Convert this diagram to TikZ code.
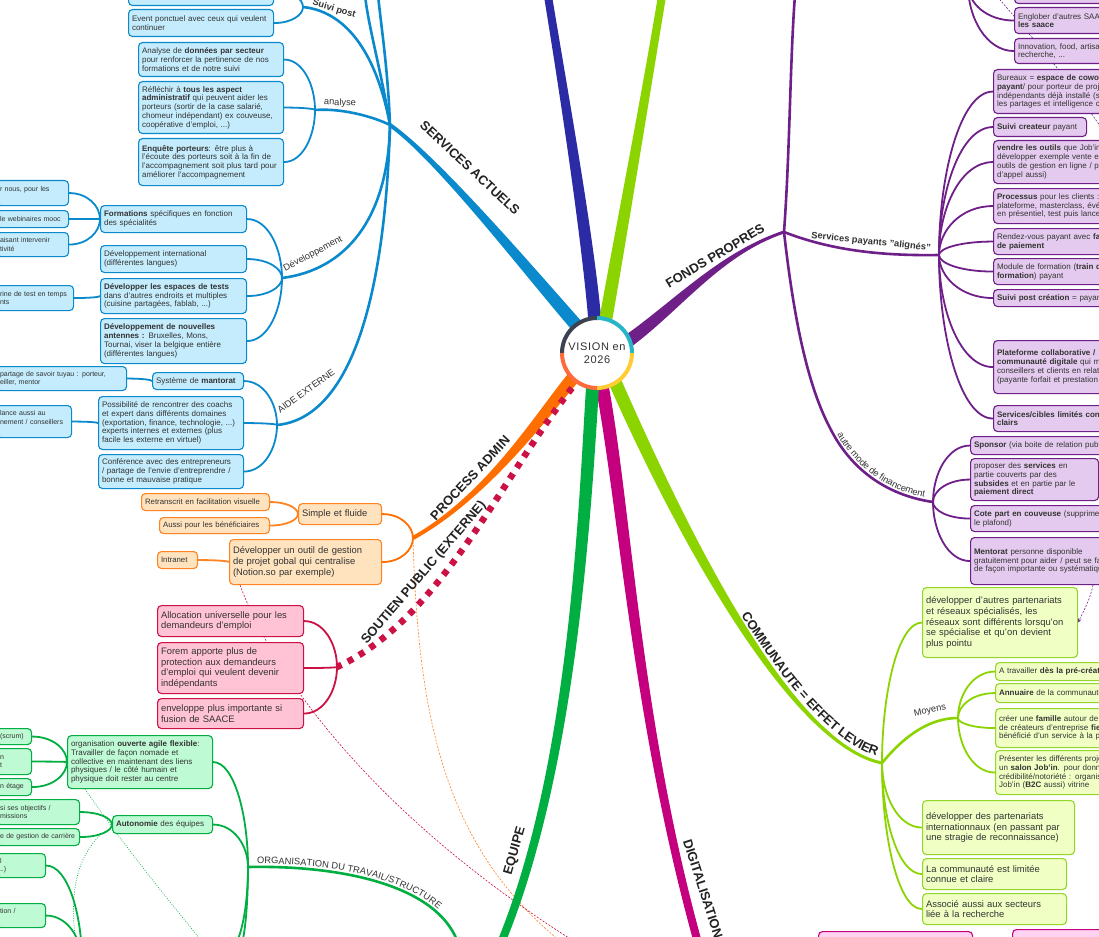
\documentclass[tikz,border=0pt]{standalone}
\usepackage{fontspec}
\setmainfont{Liberation Sans}
\usetikzlibrary{calc,decorations.text,arrows.meta}
\pgfdeclarelayer{bg}
\pgfsetlayers{bg,main}
\definecolor{cBlue}{HTML}{0A8ACC}
\definecolor{cBlueF}{HTML}{C4ECFC}
\definecolor{cNavy}{HTML}{2B2BA6}
\definecolor{cLime}{HTML}{8CD400}
\definecolor{cLimeB}{HTML}{96D62A}
\definecolor{cLimeF}{HTML}{F0FFC4}
\definecolor{cPurp}{HTML}{6E1F88}
\definecolor{cPurpF}{HTML}{E4CAEE}
\definecolor{cOrange}{HTML}{FF6E00}
\definecolor{cOrangeB}{HTML}{FF8320}
\definecolor{cOrangeF}{HTML}{FFE3BE}
\definecolor{cRed}{HTML}{CC1144}
\definecolor{cRedF}{HTML}{FFC3D5}
\definecolor{cGreen}{HTML}{00AE42}
\definecolor{cGreenF}{HTML}{BEFBD4}
\definecolor{cMag}{HTML}{C4007E}
\definecolor{cMagF}{HTML}{FFD2F2}
\definecolor{cText}{HTML}{333333}
\definecolor{cDark}{HTML}{222222}
\definecolor{cRingA}{HTML}{3B4252}
\definecolor{cRingB}{HTML}{26B6C8}
\definecolor{cRingC}{HTML}{FFCC33}
\definecolor{cRingD}{HTML}{FF6B3D}
\newcommand\smallf{\fontsize{8}{8.8}\selectfont}
\newcommand\cropf{\fontsize{7}{8.6}\selectfont}
\newcommand\bigf{\fontsize{9.4}{10.8}\selectfont}
\newcommand\tinyf{\fontsize{7.8}{8.6}\selectfont}
\newcommand\mainlab{\fontsize{13}{14}\selectfont\bfseries}
\newcommand\sublab{\fontsize{9.3}{10}\selectfont}
\newcommand\centf{\fontsize{11}{13.5}\selectfont\addfontfeature{LetterSpace=6}}
\newcommand\mmbox[7]{%
  \pgfmathsetmacro\mmw{#5-(#3)-7}%
  \pgfmathsetmacro\mmh{#6-(#4)}%
  \node[#1, text width=\mmw pt, minimum height=\mmh pt, anchor=north west] (#2) at (#3,#4) {#7};}
\newcommand\mmlink[3][]{\draw[lnk,#1] (#2) .. controls ($(#2)!0.6!(#2 -| #3)$) and ($(#3)!0.5!(#3 |- #2)$) .. (#3);}
\newcommand\mmbranch[7]{%
  \coordinate (mbL0) at ($(#2)!#6!90:(#3)$);
  \coordinate (mbR0) at ($(#2)!#6!-90:(#3)$);
  \coordinate (mbL3) at ($(#5)!#7!-90:(#4)$);
  \coordinate (mbR3) at ($(#5)!#7!90:(#4)$);
  \coordinate (mbL1) at ($(#3)+(mbL0)-(#2)$);
  \coordinate (mbR1) at ($(#3)+(mbR0)-(#2)$);
  \coordinate (mbL2) at ($(#4)+(mbL3)-(#5)$);
  \coordinate (mbR2) at ($(#4)+(mbR3)-(#5)$);
  \fill[#1] (mbL0) .. controls (mbL1) and (mbL2) .. (mbL3) -- (mbR3) .. controls (mbR2) and (mbR1) .. (mbR0) -- cycle;}
\newcommand\cl[1]{\leavevmode\rlap{#1}}
\tikzset{
  nbox/.style={rounded corners=4pt, line width=1.1pt, inner xsep=3.5pt, inner ysep=1pt, align=left, text=cText, font=\smallf},
  bnode/.style={nbox, draw=cBlue, fill=cBlueF},
  bcrop/.style={bnode, font=\cropf},
  onode/.style={nbox, draw=cOrangeB, fill=cOrangeF},
  obig/.style={onode, font=\bigf},
  otiny/.style={onode, font=\tinyf},
  rnode/.style={nbox, draw=cRed, fill=cRedF, font=\bigf},
  gnode/.style={nbox, draw=cGreen, fill=cGreenF},
  gcrop/.style={gnode, font=\cropf},
  pnode/.style={nbox, draw=cPurp, fill=cPurpF},
  cnode/.style={nbox, draw=cLimeB, fill=cLimeF},
  cbig/.style={cnode, font=\bigf},
  mnode/.style={nbox, draw=cMag, fill=cMagF},
  lnk/.style={line width=1.8pt},
  subbr/.style={line width=2.6pt},
  relln/.style={line width=0.6pt, dash pattern=on 2pt off 1.5pt},
  dotln/.style={line width=0.7pt, dash pattern=on 0.8pt off 1.6pt},
  mlab/.style={font=\mainlab, text=cDark, inner sep=0pt},
  slab/.style={font=\sublab, text=cText, inner sep=0pt},
}
\begin{document}
\begin{tikzpicture}[x=1pt,y=-1pt]
\useasboundingbox (0,0) rectangle (1099,936);
\begin{pgfonlayer}{bg}
\fill[white] (0,0) rectangle (1099,936);
\end{pgfonlayer}
\clip (0,0) rectangle (1099,936);

% junction coordinates
\coordinate (J) at (390,125);
\coordinate (A0) at (303,7);
\coordinate (A1) at (315,110);
\coordinate (A2) at (282,278);
\coordinate (A3) at (277,425);
\coordinate (jt1) at (365,-5);
\coordinate (jt2) at (378,-5);
\coordinate (O) at (413,538);
\coordinate (R) at (337,667);
\coordinate (G) at (248,867);
\coordinate (gE) at (460,950);
\coordinate (G2) at (82,962);
\coordinate (gD1) at (228,950);
\coordinate (gD2) at (238,950);
\coordinate (C0) at (612,375);
\coordinate (C) at (882,763);
\coordinate (M) at (958,718);
\coordinate (K) at (784,232);
\coordinate (KA) at (830,428);
\coordinate (kt) at (795,-5);
\coordinate (S) at (939,255);
\coordinate (F) at (933,502);
\coordinate (U) at (968,-15);
\coordinate (mA) at (1093,585);
\coordinate (rp0) at (240,585);
\coordinate (rp1) at (580,945);
\coordinate (op1) at (565,945);
\coordinate (pr0) at (995,-6);
\coordinate (pr1) at (1106,135);
\coordinate (gd0) at (85,789);
\coordinate (gd1) at (205,945);
\coordinate (gd2) at (101,834);
\coordinate (gd3) at (76,945);

% ---------- SERVICES ACTUELS (blue) ----------
\mmbox{bnode}{bTop}{128}{-25}{273}{5}{}
\mmbox{bnode}{bEvent}{128}{9}{273}{36}{Event ponctuel avec ceux qui veulent\\ continuer}
\mmbox{bnode}{bAn1}{138}{42}{283}{76}{Analyse de \textbf{données par secteur}\\ pour renforcer la pertinence de nos\\ formations et de notre suivi}
\mmbox{bnode}{bAn2}{138}{81}{283}{133}{Réfléchir à \textbf{tous les aspect}\\ \textbf{administratif} qui peuvent aider les\\ porteurs (sortir de la case salarié,\\ chomeur indépendant) ex couveuse,\\ coopérative d'emploi, ...)}
\mmbox{bnode}{bAn3}{138}{138}{283}{185}{\textbf{Enquête porteurs}: être plus à\\ l'écoute des porteurs soit à la fin de\\ l'accompagnement soit plus tard pour\\ améliorer l'accompagnement}
\mmbox{bnode}{bForm}{100}{205}{246}{232}{\textbf{Formations} spécifiques en fonction\\ des spécialités}
\mmbox{bnode}{bIntl}{100}{245}{246}{272}{Développement international\\ (différentes langues)}
\mmbox{bnode}{bEsp}{100}{278}{246}{313}{\textbf{Développer les espaces de tests}\\ dans d'autres endroits et multiples\\ (cuisine partagées, fablab, ...)}
\mmbox{bnode}{bAnt}{100}{318}{246}{363}{\textbf{Développement de nouvelles}\\ \textbf{antennes :} Bruxelles, Mons,\\ Tournai, viser la belgique entière\\ (différentes langues)}
\mmbox{bcrop}{bF1}{-4}{180}{68}{205}{\cl{r nous, pour les}\\ \mbox{}}
\mmbox{bcrop}{bF2}{-4}{210}{68}{227}{\cl{le webinaires mooc}}
\mmbox{bcrop}{bF3}{-4}{232}{68}{256}{\cl{aisant intervenir}\\ \cl{tivité}}
\mmbox{bcrop}{bE1}{-4}{285}{73}{310}{\cl{rine de test en temps}\\ \cl{nts}}
\mmbox{bnode}{bMan}{152}{372}{243}{389}{Système de \textbf{mantorat}}
\mmbox{bnode}{bPoss}{98}{396}{243}{449}{Possibilité de rencontrer des coachs\\ et expert dans différents domaines\\ (exportation, finance, technologie, ...)\\ experts internes et externes (plus\\ facile les externe en virtuel)}
\mmbox{bnode}{bConf}{98}{454}{243}{488}{Conférence avec des entrepreneurs\\ / partage de l'envie d'entreprendre /\\ bonne et mauvaise pratique}
\mmbox{bcrop}{bM1}{-4}{366}{126}{390}{\cl{partage de savoir tuyau : porteur,}\\ \cl{eiller, mentor}}
\mmbox{bcrop}{bP1}{-4}{405}{71}{437}{\cl{lance aussi au}\\ \cl{nement / conseillers}\\ \mbox{}}

% ---------- PROCESS ADMIN (orange) ----------
\mmbox{obig}{oSimple}{298}{503}{381}{524}{Simple et fluide}
\mmbox{obig}{oOutil}{229}{539}{381}{584}{Développer un outil de gestion\\ de projet gobal qui centralise\\ (Notion.so par exemple)}
\mmbox{otiny}{oRetr}{141}{493}{269}{510}{Retranscrit en facilitation visuelle}
\mmbox{otiny}{oAussi}{159}{517}{269}{533}{Aussi pour les bénéficiaires}
\mmbox{otiny}{oIntra}{157}{551}{197}{568}{Intranet}

% ---------- SOUTIEN PUBLIC (red) ----------
\mmbox{rnode}{rAlloc}{157}{605}{303}{636}{Allocation universelle pour les\\ demandeurs d'emploi}
\mmbox{rnode}{rForem}{157}{642}{303}{693}{Forem apporte plus de\\ protection aux demandeurs\\ d'emploi qui veulent devenir\\ indépendants}
\mmbox{rnode}{rEnv}{157}{698}{303}{728}{enveloppe plus importante si\\ fusion de SAACE}

% ---------- EQUIPE (green) ----------
\mmbox{gnode}{gOrg}{67}{735}{212}{788}{organisation \textbf{ouverte agile flexible}:\\ Travailler de façon nomade et\\ collective en maintenant des liens\\ physiques / le côté humain et\\ physique doit rester au centre}
\mmbox{gnode}{gAut}{112}{815}{212}{833}{\textbf{Autonomie} des équipes}
\mmbox{gcrop}{gO1}{-4}{728}{31}{744}{\cl{(scrum)}}
\mmbox{gcrop}{gO2}{-4}{748}{31}{774}{\cl{n}\\ \cl{t}}
\mmbox{gcrop}{gO3}{-4}{778}{31}{795}{\cl{n étage}}
\mmbox{gcrop}{gA1}{-4}{799}{79}{824}{\cl{si ses objectifs /}\\ \cl{missions}}
\mmbox{gcrop}{gA2}{-4}{828}{79}{845}{\cl{e de gestion de carrière}}
\mmbox{gcrop}{gL1}{-4}{853}{45}{877}{\cl{l}\\ \cl{..)}}
\mmbox{gcrop}{gL2}{-4}{903}{45}{927}{\cl{tion /}\\ \mbox{}}

% ---------- FONDS PROPRES (purple) ----------
\mmbox{pnode}{pTop}{1014}{-20}{1160}{3}{}
\mmbox{pnode}{pEng}{1014}{7}{1160}{33}{Englober d'autres SAACE\\ \textbf{les saace}}
\mmbox{pnode}{pInno}{1014}{38}{1160}{63}{Innovation, food, artisanat,\\ recherche, ...}
\mmbox{pnode}{pBur}{993}{69}{1160}{113}{Bureaux = \textbf{espace de coworking}\\ \textbf{payant}/ pour porteur de projets\\ indépendants déjà installé (stimuler\\ les partages et intelligence collective)}
\mmbox{pnode}{pSuivi}{993}{117}{1086}{136}{\textbf{Suivi createur} payant}
\mmbox{pnode}{pVend}{993}{140}{1160}{183}{\textbf{vendre les outils} que Job'in a pu\\ développer exemple vente en ligne\\ outils de gestion en ligne / prix\\ d'appel aussi)}
\mmbox{pnode}{pProc}{993}{188}{1160}{223}{\textbf{Processus} pour les clients : \\ plateforme, masterclass, événements\\ en présentiel, test puis lancement}
\mmbox{pnode}{pRdv}{993}{228}{1160}{254}{Rendez-vous payant avec \textbf{facilité}\\ \textbf{de paiement}}
\mmbox{pnode}{pMod}{993}{258}{1160}{284}{Module de formation (\textbf{train de}\\ \textbf{formation}) payant}
\mmbox{pnode}{pSpc}{993}{289}{1160}{306}{\textbf{Suivi post création} = payant}
\mmbox{pnode}{pPlat}{993}{340}{1160}{393}{\textbf{Plateforme collaborative /}\\ \textbf{communauté digitale} qui met\\ conseillers et clients en relation\\ (payante forfait et prestation à}
\mmbox{pnode}{pServ}{993}{405}{1160}{431}{\textbf{Services/cibles limités connus et}\\ \textbf{clairs}}
\mmbox{pnode}{pSpon}{970}{436}{1160}{454}{\textbf{Sponsor} (via boite de relation publique)}
\mmbox{pnode}{pProp}{970}{458}{1098}{500}{proposer des \textbf{services} en\\ partie couverts par des\\ \textbf{subsides} et en partie par le\\ \textbf{paiement direct}}
\mmbox{pnode}{pCote}{970}{505}{1160}{531}{\textbf{Cote part en couveuse} (supprimer\\ le plafond)}
\mmbox{pnode}{pMent}{970}{537}{1160}{584}{\textbf{Mentorat} personne disponible\\ gratuitement pour aider / peut se faire\\ de façon importante ou systématique}

% ---------- COMMUNAUTE (lime) ----------
\mmbox{cbig}{cDev}{922}{587}{1077}{657}{développer d'autres partenariats\\ et réseaux spécialisés, les\\ réseaux sont différents lorsqu'on\\ se spécialise et qu'on devient\\ plus pointu}
\mmbox{cnode}{cPre}{995}{662}{1160}{680}{A travailler \textbf{dès la pré-création}}
\mmbox{cnode}{cAnn}{995}{683}{1160}{702}{\textbf{Annuaire} de la communauté}
\mmbox{cnode}{cFam}{995}{708}{1160}{747}{créer une \textbf{famille} autour de Job'in\\ de créateurs d'entreprise \textbf{fiers} d'avoir\\ bénéficié d'un service à la pointe}
\mmbox{cnode}{cSalon}{995}{750}{1160}{794}{Présenter les différents projets dans\\ un \textbf{salon Job'in}. pour donner de la\\ crédibilité/notoriété : organiser\\ Job'in (\textbf{B2C} aussi) vitrine}
\mmbox{cbig}{cInt}{922}{800}{1074}{854}{développer des partenariats\\ internationnaux (en passant par\\ une stragie de reconnaissance)}
\mmbox{cbig}{cLim}{922}{858}{1066}{889}{La communauté est limitée\\ connue et claire}
\mmbox{cbig}{cAss}{922}{893}{1066}{924}{Associé aussi aux secteurs\\ liée à la recherche}

% ---------- DIGITALISATION (magenta) ----------
\mmbox{mnode}{mB1}{818}{931}{972}{965}{}
\mmbox{mnode}{mB2}{1012}{929}{1160}{965}{}

% ---------- center ----------
\node[circle, fill=white, minimum size=70pt, inner sep=0pt, align=center, text=cText, font=\centf] (ctr) at (597,353) {VISION en\\2026};
\begin{scope}[shift={(597,353)}, y=1pt]
\draw[cRingA, line width=4pt] (180:35) arc[start angle=180, end angle=90, radius=35];
\draw[cRingB, line width=4pt] (90:35) arc[start angle=90, end angle=0, radius=35];
\draw[cRingC, line width=4pt] (0:35) arc[start angle=0, end angle=-90, radius=35];
\draw[cRingD, line width=4pt] (270:35) arc[start angle=270, end angle=180, radius=35];
\end{scope}

% ---------- labels ----------
\node[mlab, rotate=-43] (lSA) at (470,168) {SERVICES ACTUELS};
\node[mlab, rotate=31] (lFP) at (715,256) {FONDS PROPRES};
\node[mlab, rotate=47] (lPA) at (470,478) {PROCESS ADMIN};
\node[mlab, rotate=49.5] (lSP) at (424,573) {SOUTIEN PUBLIC (EXTERNE)};
\node[mlab, rotate=74] (lEQ) at (515,851) {EQUIPE};
\node[mlab, rotate=-72] (lDG) at (703,889) {DIGITALISATION};
\node[slab, font=\sublab\bfseries, rotate=-17] (lSPo) at (334,9) {Suivi post};
\node[slab, rotate=-3] (lAn) at (340,103) {analyse};
\node[slab, rotate=28] (lDev) at (313,254) {Développement};
\node[slab, rotate=36] (lAE) at (306,391) {AIDE EXTERNE};
\node[slab, font=\sublab\bfseries, rotate=-6] (lSv) at (871,242) {Services payants "alignés"};
\node[slab, rotate=12] (lMo) at (930,711) {Moyens};
\path[decorate, decoration={text along path, text={|\mainlab|COMMUNAUTE = EFFET LEVIER}, text color=cDark, raise=5.5pt, text align={right, right indent=8pt}}] (C0) .. controls (680,530) and (790,745) .. (C);
\path[decorate, decoration={text along path, text={|\sublab|ORGANISATION DU TRAVAIL/STRUCTURE}, text color=cText, raise=3pt, text align={left, left indent=9pt}}] (G) .. controls (340,865) and (445,885) .. (gE);
\path[decorate, decoration={text along path, text={|\sublab|autre mode de financement}, text color=cText, raise=3pt, text align=center}] (KA) .. controls (850,468) and (885,495) .. (F);

% ---------- connectors (background layer) ----------
\begin{pgfonlayer}{bg}
\begin{scope}
\clip (0,0) rectangle (1099,936);
% relation lines
\draw[relln, cOrangeB] (O) .. controls (418,720) and (445,850) .. (op1);
\draw[relln, cRed] (rp0) .. controls (275,680) and (380,820) .. (rp1);
\draw[relln, cPurp] (pr0) .. controls (1030,35) and (1070,80) .. (pr1);
\draw[relln, cPurp, -{Stealth[length=4pt,width=3.5pt]}] (mA) .. controls (1090,600) and (1083,612) .. (cDev.east);
\draw[dotln, cGreen] (gd0) .. controls (120,840) and (160,890) .. (gd1);
\draw[dotln, cGreen] (gd2) .. controls (80,855) and (68,885) .. (gd3);

% main branches
\mmbranch{cNavy}{596,335}{590,250}{565,100}{547,-10}{6.5pt}{4pt}
\mmbranch{cLime}{603,335}{618,250}{645,100}{663,-10}{6.5pt}{4pt}
\mmbranch{cBlue}{585,335}{540,285}{440,160}{390,125}{6.5pt}{2pt}
\mmbranch{cPurp}{615,350}{670,315}{715,255}{784,232}{6.5pt}{1.5pt}
\mmbranch{cLime}{612,375}{680,530}{790,745}{882,763}{6.5pt}{1.5pt}
\mmbranch{cMag}{600,375}{625,500}{635,720}{700,950}{6.5pt}{4pt}
\mmbranch{cGreen}{593,380}{585,500}{575,770}{498,950}{6.5pt}{4pt}
\mmbranch{cOrange}{578,372}{545,410}{490,495}{413,538}{6.5pt}{2pt}
\draw[cRed, line width=6.5pt, dash pattern=on 6pt off 7pt] (572,388) .. controls (500,480) and (440,620) .. (R);

% blue sub-branches and links
\draw[cBlue, subbr] (J) .. controls (378,60) and (350,12) .. (A0);
\draw[cBlue, subbr] (J) .. controls (381,70) and (368,25) .. (jt1);
\draw[cBlue, subbr] (J) .. controls (388,70) and (381,25) .. (jt2);
\draw[cBlue, subbr] (J) .. controls (372,116) and (340,108) .. (A1);
\draw[cBlue, subbr] (J) .. controls (388,220) and (345,270) .. (A2);
\draw[cBlue, subbr] (J) .. controls (385,300) and (350,418) .. (A3);
\mmlink[cBlue]{bTop.east}{A0}
\mmlink[cBlue]{bEvent.east}{A0}
\mmlink[cBlue]{bAn1.east}{A1}
\mmlink[cBlue]{bAn2.east}{A1}
\mmlink[cBlue]{bAn3.east}{A1}
\mmlink[cBlue]{bForm.east}{A2}
\mmlink[cBlue]{bIntl.east}{A2}
\mmlink[cBlue]{bEsp.east}{A2}
\mmlink[cBlue]{bAnt.east}{A2}
\mmlink[cBlue]{bF1.east}{bForm.west}
\mmlink[cBlue]{bF2.east}{bForm.west}
\mmlink[cBlue]{bF3.east}{bForm.west}
\mmlink[cBlue]{bE1.east}{bEsp.west}
\mmlink[cBlue]{bMan.east}{A3}
\mmlink[cBlue]{bPoss.east}{A3}
\mmlink[cBlue]{bConf.east}{A3}
\mmlink[cBlue]{bM1.east}{bMan.west}
\mmlink[cBlue]{bP1.east}{bPoss.west}

% orange links
\mmlink[cOrange]{oSimple.east}{O}
\mmlink[cOrange]{oOutil.east}{O}
\mmlink[cOrangeB]{oRetr.east}{oSimple.west}
\mmlink[cOrangeB]{oAussi.east}{oSimple.west}
\mmlink[cOrangeB]{oIntra.east}{oOutil.west}

% red links
\mmlink[cRed]{rAlloc.east}{R}
\mmlink[cRed]{rForem.east}{R}
\mmlink[cRed]{rEnv.east}{R}

% green
\draw[cGreen, subbr] (G) .. controls (340,865) and (445,885) .. (gE);
\mmlink[cGreen]{gOrg.east}{G}
\mmlink[cGreen]{gAut.east}{G}
\mmlink[cGreen]{gD1}{G}
\mmlink[cGreen]{gD2}{G}
\mmlink[cGreen]{gO1.east}{gOrg.west}
\mmlink[cGreen]{gO2.east}{gOrg.west}
\mmlink[cGreen]{gO3.east}{gOrg.west}
\mmlink[cGreen]{gA1.east}{gAut.west}
\mmlink[cGreen]{gA2.east}{gAut.west}
\mmlink[cGreen]{gL1.east}{G2}
\mmlink[cGreen]{gL2.east}{G2}

% lime
\mmlink[cLime]{cDev.west}{C}
\mmlink[cLime]{cInt.west}{C}
\mmlink[cLime]{cLim.west}{C}
\mmlink[cLime]{cAss.west}{C}
\draw[cLime, subbr] (C) .. controls (905,735) and (930,718) .. (M);
\mmlink[cLime]{cPre.west}{M}
\mmlink[cLime]{cAnn.west}{M}
\mmlink[cLime]{cFam.west}{M}
\mmlink[cLime]{cSalon.west}{M}

% purple
\draw[cPurp, subbr] (K) .. controls (790,150) and (790,60) .. (kt);
\draw[cPurp, subbr] (K) .. controls (830,250) and (880,256) .. (S);
\draw[cPurp, subbr] (K) .. controls (795,330) and (810,390) .. (KA) .. controls (850,468) and (885,495) .. (F);
\mmlink[cPurp]{pTop.west}{U}
\mmlink[cPurp]{pEng.west}{U}
\mmlink[cPurp]{pInno.west}{U}
\mmlink[cPurp]{pBur.west}{S}
\mmlink[cPurp]{pSuivi.west}{S}
\mmlink[cPurp]{pVend.west}{S}
\mmlink[cPurp]{pProc.west}{S}
\mmlink[cPurp]{pRdv.west}{S}
\mmlink[cPurp]{pMod.west}{S}
\mmlink[cPurp]{pSpc.west}{S}
\mmlink[cPurp]{pPlat.west}{S}
\mmlink[cPurp]{pServ.west}{S}
\mmlink[cPurp]{pSpon.west}{F}
\mmlink[cPurp]{pProp.west}{F}
\mmlink[cPurp]{pCote.west}{F}
\mmlink[cPurp]{pMent.west}{F}
\end{scope}
\end{pgfonlayer}
\end{tikzpicture}
\end{document}
